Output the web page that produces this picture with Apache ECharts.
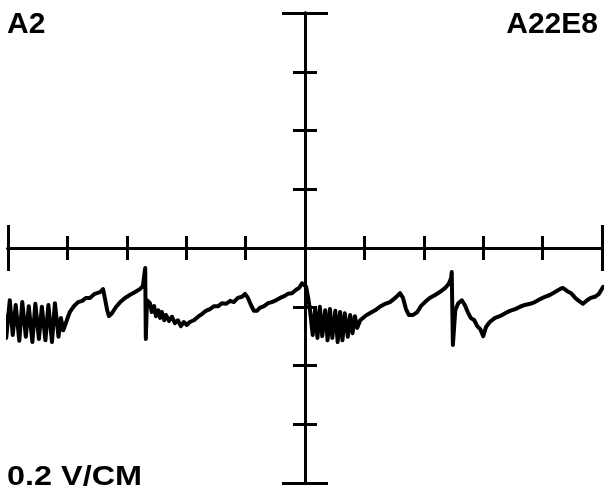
<!DOCTYPE html>
<html>
<head>
<meta charset="utf-8">
<script src="https://cdn.jsdelivr.net/npm/echarts@6/dist/echarts.min.js"></script>
<style>
  html, body { margin: 0; padding: 0; background: #fff; }
  #chart { width: 610px; height: 494px; }
</style>
</head>
<body>
<div id="chart"></div>
<script>
// Screen labels
const channelLabel = 'A2';
const shotLabel = 'A22E8';
const scaleLabel = '0.2 V/CM';

// Graticule: 10 horizontal divisions, 8 vertical divisions (cm)
const xRange = [-5, 5];
const yRange = [-4, 4];

// Trace: horizontal position (div) and vertical deflection (div, 0.2 V each)
const traceX = [
  -5.08, -5.03, -4.97, -4.92, -4.87, -4.81, -4.76, -4.70, -4.65, -4.59,
  -4.54, -4.48, -4.43, -4.37, -4.32, -4.26, -4.21, -4.15, -4.11, -4.07,
  -4.02, -3.96, -3.89, -3.82, -3.75, -3.69, -3.62, -3.54, -3.45, -3.40,
  -3.37, -3.33, -3.30, -3.25, -3.18, -3.11, -3.03, -2.95, -2.86, -2.78,
  -2.73, -2.69, -2.68, -2.66, -2.61, -2.58, -2.54, -2.51, -2.47, -2.44,
  -2.41, -2.37, -2.34, -2.29, -2.24, -2.19, -2.14, -2.09, -2.04, -1.99,
  -1.94, -1.87, -1.80, -1.73, -1.67, -1.60, -1.53, -1.46, -1.40, -1.33,
  -1.26, -1.20, -1.13, -1.06, -1.01, -0.96, -0.91, -0.86, -0.81, -0.76,
  -0.69, -0.62, -0.56, -0.49, -0.42, -0.35, -0.29, -0.22, -0.15, -0.10,
  -0.05, -0.02, 0.02, 0.05, 0.08, 0.13, 0.17, 0.21, 0.25, 0.29,
  0.34, 0.38, 0.42, 0.46, 0.51, 0.55, 0.59, 0.63, 0.67, 0.72,
  0.76, 0.80, 0.84, 0.88, 0.93, 1.01, 1.09, 1.18, 1.26, 1.35,
  1.43, 1.52, 1.60, 1.65, 1.70, 1.75, 1.82, 1.89, 1.95, 2.02,
  2.10, 2.19, 2.27, 2.36, 2.42, 2.46, 2.47, 2.49, 2.53, 2.58,
  2.64, 2.69, 2.74, 2.79, 2.85, 2.90, 2.95, 3.00, 3.05, 3.11,
  3.20, 3.28, 3.37, 3.45, 3.54, 3.62, 3.70, 3.79, 3.87, 3.96,
  4.04, 4.12, 4.21, 4.29, 4.34, 4.41, 4.48, 4.55, 4.61, 4.68,
  4.75, 4.81, 4.88, 4.95, 5.02
];
const traceY = [
  -0.94, -1.53, -0.89, -1.48, -0.97, -1.58, -0.92, -1.51, -0.99, -1.60,
  -0.95, -1.55, -1.00, -1.57, -0.97, -1.60, -0.94, -1.51, -1.19, -1.40,
  -1.26, -1.09, -0.99, -0.92, -0.90, -0.85, -0.85, -0.78, -0.75, -0.70,
  -0.85, -1.06, -1.16, -1.11, -1.00, -0.92, -0.85, -0.80, -0.75, -0.70,
  -0.65, -0.34, -1.55, -0.89, -0.94, -1.09, -0.99, -1.16, -1.06, -1.19,
  -1.09, -1.23, -1.14, -1.24, -1.17, -1.28, -1.23, -1.33, -1.26, -1.31,
  -1.26, -1.23, -1.17, -1.12, -1.07, -1.04, -0.99, -0.99, -0.94, -0.95,
  -0.90, -0.92, -0.85, -0.83, -0.78, -0.85, -0.97, -1.07, -1.07, -1.02,
  -0.99, -0.94, -0.92, -0.89, -0.85, -0.82, -0.78, -0.77, -0.71, -0.68,
  -0.60, -0.60, -0.66, -0.83, -1.02, -1.48, -1.04, -1.53, -1.00, -1.50,
  -1.06, -1.57, -1.04, -1.53, -1.07, -1.60, -1.09, -1.57, -1.11, -1.51,
  -1.14, -1.45, -1.16, -1.36, -1.23, -1.16, -1.11, -1.06, -1.00, -0.95,
  -0.92, -0.85, -0.77, -0.85, -1.04, -1.14, -1.14, -1.09, -0.99, -0.92,
  -0.85, -0.80, -0.75, -0.68, -0.61, -0.51, -0.41, -1.65, -1.06, -0.94,
  -0.89, -0.97, -1.09, -1.19, -1.23, -1.33, -1.38, -1.50, -1.34, -1.26,
  -1.19, -1.16, -1.11, -1.07, -1.04, -1.00, -0.97, -0.95, -0.92, -0.87,
  -0.83, -0.80, -0.75, -0.70, -0.68, -0.73, -0.77, -0.85, -0.90, -0.95,
  -0.89, -0.85, -0.83, -0.78, -0.66
];

const ink = '#000';
const traceData = traceX.map((x, i) => [x, traceY[i]]);

function crossAxis(gridIndex, position, min, max, interval, tickLen) {
  return {
    type: 'value', gridIndex, position, min, max, interval,
    axisLine: { show: true, onZero: true, lineStyle: { color: ink, width: 3 } },
    axisTick: { show: true, length: tickLen, lineStyle: { color: ink, width: 3 } },
    axisLabel: { show: false },
    splitLine: { show: false }
  };
}

const chart = echarts.init(document.getElementById('chart'), null, { renderer: 'canvas' });
chart.setOption({
  animation: false,
  backgroundColor: '#fff',
  grid: [
    { left: 8, top: 13, width: 594, height: 470 },
    { left: 8, top: 13, width: 594, height: 470 }
  ],
  xAxis: [
    crossAxis(0, 'bottom', xRange[0], xRange[1], 1, 12),
    crossAxis(0, 'top', xRange[0], xRange[1], 1, 12),
    crossAxis(1, 'bottom', xRange[0], xRange[1], 10, 23),
    crossAxis(1, 'top', xRange[0], xRange[1], 10, 23)
  ],
  yAxis: [
    crossAxis(0, 'left', yRange[0], yRange[1], 1, 12),
    crossAxis(0, 'right', yRange[0], yRange[1], 1, 12),
    crossAxis(1, 'left', yRange[0], yRange[1], 8, 23),
    crossAxis(1, 'right', yRange[0], yRange[1], 8, 23)
  ],
  graphic: [
    { type: 'text', x: 7, y: 25, silent: true,
      style: { text: channelLabel, fill: ink, font: 'bold 30px "Liberation Sans", Arial, sans-serif',
               textAlign: 'left', textVerticalAlign: 'middle' } },
    { type: 'text', x: 598, y: 25, silent: true,
      style: { text: shotLabel, fill: ink, font: 'bold 30px "Liberation Sans", Arial, sans-serif',
               textAlign: 'right', textVerticalAlign: 'middle' } },
    { type: 'text', x: 7, y: 478, scaleX: 1.2, silent: true,
      style: { text: scaleLabel, fill: ink, font: 'bold 27px "Liberation Sans", Arial, sans-serif',
               textAlign: 'left', textVerticalAlign: 'middle' } }
  ],
  series: [{
    type: 'line',
    xAxisIndex: 0,
    yAxisIndex: 0,
    data: traceData,
    showSymbol: false,
    clip: false,
    silent: true,
    lineStyle: { color: ink, width: 4, join: 'round', cap: 'round' }
  }]
});
</script>
</body>
</html>
